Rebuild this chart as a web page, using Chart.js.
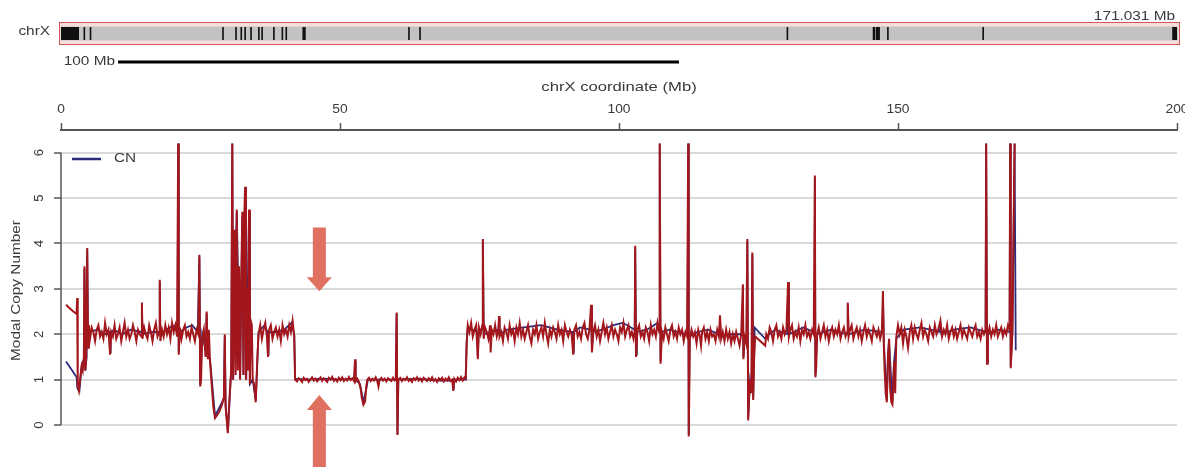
<!DOCTYPE html>
<html><head><meta charset="utf-8">
<script src="https://cdn.jsdelivr.net/npm/chart.js@4.4.1/dist/chart.umd.min.js"></script>
<style>html,body{margin:0;padding:0;background:#fff;}#wrap{width:1185px;height:467px;}</style>
</head><body><div id="wrap"><canvas id="c" width="1185" height="467"></canvas></div>
<script>
// ---- data (Mb, copy number) ----
const chrName = 'chrX';
const chrLength = 171.031;
const xTitle = 'chrX coordinate (Mb)';
const yTitle = 'Modal Copy Number';
const xTicks = [0, 50, 100, 150, 200];
const yTicks = [0, 1, 2, 3, 4, 5, 6];
const bandStarts = [0, 3.45, 4.4, 24.7, 26.7, 27.5, 28.1, 29.0, 30.2, 30.7, 32.5, 33.8, 34.4, 37.0, 53.2, 54.9, 111.2, 124.4, 124.85, 126.6, 141.2, 170.3];
const bandEnds   = [2.76, 3.7, 4.65, 24.95, 26.95, 27.75, 28.35, 29.25, 30.45, 30.95, 32.75, 34.05, 34.65, 37.5, 53.45, 55.15, 111.45, 124.75, 125.5, 126.85, 141.45, 171.031];
const arrowPos = 46.3;

const redA = [[0.9,2.65],[1.5,2.58],[2.2,2.5],[2.8,2.45],[2.9,2.8],[3.0,0.85],[3.2,0.75],[3.5,1.1],[3.7,1.3],[3.9,1.2],[4.1,1.5],[4.2,3.5],[4.35,1.2],[4.5,1.45],[4.7,3.9],[4.85,1.7],[5.0,2.2],[5.2,1.9],[5.5,2.15],[5.8,2.05],[6.1,1.85],[6.4,2.1],[6.7,2.2],[7.0,1.95],[7.3,2.05],[7.6,1.9],[7.9,2.25],[8.2,2.0],[8.5,2.1],[8.8,1.55],[9.0,2.05],[9.3,1.95],[9.6,2.2],[9.9,1.9],[10.2,2.0],[10.5,2.15],[10.8,1.85],[11.1,2.05],[11.4,2.25],[11.7,1.95],[12.0,2.1],[12.3,1.9],[12.6,2.0],[12.9,2.2],[13.2,2.05],[13.5,1.85],[13.8,2.1],[14.1,2.0],[14.4,1.95],[14.5,2.7],[14.6,1.9],[14.9,2.15],[15.2,2.0],[15.5,1.9],[15.8,2.2],[16.1,2.05],[16.4,1.85],[16.7,2.1],[17.0,2.25],[17.3,1.95],[17.6,2.05],[17.7,3.2],[17.8,1.85],[18.1,2.1],[18.4,1.95],[18.7,2.2],[19.0,2.0],[19.3,2.15],[19.6,1.9],[19.9,2.25],[20.2,2.05],[20.5,2.2],[20.8,1.95],[21.0,6.2],[21.1,1.55],[21.3,2.15],[21.6,1.9],[21.9,2.1],[22.2,2.2],[22.5,1.95],[22.8,2.05],[23.1,1.9],[23.4,2.15],[23.7,2.0],[24.0,1.85],[24.3,2.1],[24.6,2.0],[24.8,3.75],[24.95,0.85],[25.1,1.0],[25.3,1.9],[25.6,2.1],[25.9,1.5],[26.1,2.5],[26.3,1.45],[26.5,2.1],[26.7,1.4],[27.0,0.9],[27.3,0.4],[27.6,0.15],[28.0,0.22],[28.4,0.3],[28.85,0.45],[29.2,0.6],[29.35,2.0],[29.5,0.4],[29.9,-0.18],[30.2,0.6],[30.5,1.2],[30.7,6.2],[30.85,1.0],[31.1,4.3],[31.3,1.1],[31.5,4.75],[31.7,1.2],[31.9,3.5],[32.1,1.0],[32.3,3.2],[32.5,4.7],[32.7,1.1],[32.85,4.6],[33.0,5.25],[33.15,1.0],[33.35,3.0],[33.5,1.2],[33.7,4.75],[33.85,0.9],[34.0,2.3],[34.2,2.2],[34.35,1.0],[34.6,0.9],[34.9,0.5],[35.2,1.5],[35.4,2.0],[35.7,2.2],[36.0,1.9],[36.3,2.1],[36.6,2.25],[36.9,1.95],[37.1,1.5],[37.3,2.1],[37.6,2.2],[37.9,1.9],[38.2,2.05],[38.5,2.15],[38.8,1.95],[39.1,2.1],[39.4,1.85],[39.7,2.2],[40.0,2.0],[40.3,2.1],[40.6,1.95],[40.9,2.2],[41.2,2.05],[41.5,2.3],[41.8,1.95]];
const redB = [[41.95,1.0],[42.3,0.96],[42.6,1.03],[42.9,1.0],[43.2,0.95],[43.5,1.04],[43.8,0.99],[44.1,1.02],[44.4,0.95],[44.7,1.0],[45.0,1.05],[45.3,0.98],[45.6,1.02],[45.9,0.96],[46.2,1.0],[46.5,1.05],[46.8,0.97],[47.1,1.03],[47.4,0.99],[47.7,0.95],[48.0,1.04],[48.3,1.0],[48.6,1.06],[48.9,0.97],[49.2,1.01],[49.5,0.96],[49.8,1.04],[50.1,0.99],[50.4,1.05],[50.7,0.97],[51.0,1.02],[51.3,0.98],[51.6,1.06],[51.9,0.99],[52.2,1.03],[52.5,0.97],[52.7,1.45],[52.8,0.96],[53.1,1.02],[53.4,0.95],[53.7,0.8],[53.9,0.6],[54.2,0.45],[54.5,0.52],[54.7,0.85],[54.9,1.0],[55.2,1.04],[55.5,0.97],[55.8,1.02],[56.1,0.98],[56.4,1.05],[56.7,0.96],[56.9,0.85],[57.1,1.0],[57.4,1.04],[57.7,0.98],[58.0,1.02],[58.3,0.96],[58.6,1.03],[58.9,1.0],[59.2,0.97],[59.5,1.04],[59.8,0.98],[60.0,1.0],[60.15,2.48],[60.3,-0.22],[60.45,1.0],[60.8,1.04],[61.1,0.97],[61.4,1.02],[61.7,0.99],[62.0,1.05],[62.3,0.97],[62.6,1.01],[62.9,0.95],[63.2,1.03],[63.5,0.99],[63.8,1.05],[64.1,0.98],[64.4,1.02],[64.7,0.96],[65.0,1.04],[65.3,1.0],[65.6,0.97],[65.9,1.03],[66.2,0.98],[66.5,1.05],[66.8,0.97],[67.1,1.01],[67.4,0.95],[67.7,1.03],[68.0,0.99],[68.3,1.04],[68.6,0.96],[68.9,1.02],[69.2,0.98],[69.5,1.05],[69.8,0.97],[70.1,1.0],[70.3,0.75],[70.5,1.02],[70.8,0.96],[71.1,1.04],[71.4,0.99],[71.7,1.06],[72.0,0.98],[72.3,1.05],[72.55,1.02]];
const redC = [[72.7,1.8],[72.9,2.2],[73.2,2.05],[73.5,2.25],[73.8,1.95],[74.1,2.1],[74.4,2.2],[74.7,1.45],[74.9,2.15],[75.2,2.0],[75.5,2.2],[75.6,4.1],[75.75,1.9],[76.0,2.15],[76.3,2.05],[76.6,1.9],[76.9,2.2],[77.0,1.6],[77.2,2.1],[77.5,2.0],[77.8,2.2],[78.1,1.95],[78.4,2.1],[78.5,2.4],[78.6,1.95],[78.9,2.05],[79.2,1.85],[79.5,2.15],[79.8,2.05],[80.1,1.9],[80.4,2.2],[80.7,2.0],[81.0,2.1],[81.3,1.85],[81.6,2.15],[81.9,2.0],[82.2,2.25],[82.5,1.95],[82.8,2.1],[83.1,1.9],[83.4,2.05],[83.7,2.2],[84.0,1.95],[84.3,1.8],[84.6,2.1],[84.9,2.0],[85.2,2.2],[85.5,1.9],[85.8,2.05],[86.1,2.15],[86.4,1.95],[86.7,2.25],[87.0,2.0],[87.3,1.8],[87.6,2.1],[87.9,1.95],[88.2,2.15],[88.5,2.05],[88.8,1.9],[89.1,2.2],[89.4,2.0],[89.7,2.1],[90.0,1.85],[90.3,2.2],[90.6,2.05],[90.9,1.95],[91.2,2.1],[91.5,2.0],[91.8,1.55],[92.0,2.1],[92.3,2.2],[92.6,1.95],[92.9,2.05],[93.2,1.9],[93.5,2.15],[93.8,2.25],[94.1,2.0],[94.4,1.9],[94.7,2.1],[95.0,2.65],[95.15,1.6],[95.4,2.05],[95.7,2.2],[96.0,1.95],[96.3,2.1],[96.6,1.85],[96.9,2.05],[97.2,2.25],[97.5,2.0],[97.8,2.15],[98.1,1.9],[98.4,2.05],[98.7,2.2],[99.0,1.95],[99.3,2.1],[99.6,2.0],[99.9,1.85],[100.2,2.15],[100.5,2.05],[100.8,2.25],[101.1,1.95],[101.4,2.1],[101.7,2.2],[102.0,1.95],[102.3,2.05],[102.6,1.9],[102.85,2.1],[102.9,3.95],[103.05,1.5],[103.3,2.1],[103.6,2.2],[103.9,1.95],[104.2,2.05],[104.5,1.9],[104.8,2.15],[105.1,2.05],[105.4,1.85],[105.7,2.2],[106.0,2.0],[106.3,2.1],[106.6,1.95],[106.9,2.25],[107.2,2.05],[107.3,6.2],[107.45,1.35],[107.7,2.05],[108.0,1.9],[108.3,2.15],[108.6,2.0],[108.9,1.85],[109.2,2.1],[109.5,2.2],[109.8,1.95],[110.1,2.05],[110.4,1.9],[110.7,2.15],[111.0,2.0],[111.3,2.1],[111.6,1.85],[111.9,2.05],[112.2,1.95],[112.4,6.2],[112.5,-0.25],[112.7,1.9],[113.0,2.1],[113.3,1.95],[113.6,2.05],[113.9,1.8],[114.2,2.1],[114.5,1.95],[114.7,1.75],[114.9,2.05],[115.2,2.15],[115.5,1.9],[115.8,2.05],[116.1,1.85],[116.4,2.1],[116.7,1.95],[117.0,2.0],[117.3,1.85],[117.6,2.1],[117.9,1.95],[118.1,2.42],[118.3,1.9],[118.6,2.05],[118.9,1.85],[119.2,2.1],[119.5,1.9],[119.8,2.05],[120.1,1.8],[120.4,2.0],[120.7,1.85],[121.0,2.05],[121.3,1.9],[121.6,1.75],[121.9,2.0],[122.2,3.1],[122.3,1.45],[122.5,1.95],[122.8,1.8],[123.0,4.1],[123.15,0.1],[123.3,0.6],[123.5,1.0],[123.7,0.7],[123.9,3.8],[124.05,0.55],[124.2,1.4],[124.4,1.95],[126.2,1.75],[126.4,2.0]];
const redD = [[126.7,1.9],[127.0,2.15],[127.3,2.05],[127.6,1.85],[127.9,2.1],[128.2,2.2],[128.5,1.95],[128.8,2.05],[129.1,1.9],[129.4,2.15],[129.7,2.0],[130.0,2.1],[130.3,3.15],[130.45,1.95],[130.7,2.1],[131.0,2.2],[131.3,1.9],[131.6,2.05],[131.9,1.95],[132.2,2.15],[132.5,1.85],[132.8,2.1],[133.1,2.0],[133.4,2.2],[133.7,1.95],[134.0,2.05],[134.3,1.9],[134.6,2.1],[134.9,2.0],[135.1,5.5],[135.2,1.05],[135.35,1.3],[135.5,2.0],[135.8,2.15],[136.1,1.9],[136.4,2.05],[136.7,2.2],[137.0,1.95],[137.3,2.1],[137.6,1.85],[137.9,2.05],[138.2,2.15],[138.5,1.95],[138.8,2.1],[139.1,2.0],[139.4,2.2],[139.7,1.9],[140.0,2.05],[140.3,2.15],[140.6,1.95],[140.9,2.05],[141.0,2.7],[141.15,1.95],[141.4,2.1],[141.7,2.2],[142.0,1.9],[142.3,2.05],[142.6,2.15],[142.9,1.95],[143.2,2.1],[143.5,1.85],[143.8,2.05],[144.1,2.2],[144.4,1.95],[144.7,2.1],[145.0,2.0],[145.3,1.85],[145.6,2.15],[145.9,2.05],[146.2,1.95],[146.5,2.1],[146.8,1.9],[147.1,2.05],[147.3,2.95],[147.45,1.8],[147.6,1.2],[147.8,0.7],[148.0,0.5],[148.2,1.5],[148.4,1.9],[148.6,0.8],[148.8,0.5],[149.0,0.45],[149.3,1.4],[149.5,0.7],[149.7,1.95],[150.0,2.2],[150.3,2.0],[150.6,2.15],[150.9,1.8],[151.2,2.1],[151.5,1.95],[151.8,1.7],[152.1,2.05],[152.4,2.2],[152.7,1.9],[153.0,2.15],[153.3,2.0],[153.6,1.9],[153.9,2.1],[154.2,2.25],[154.5,1.95],[154.8,2.1],[155.1,2.0],[155.4,1.85],[155.7,2.15],[156.0,2.05],[156.3,1.95],[156.6,2.2],[156.9,2.0],[157.2,2.1],[157.6,2.3],[157.9,1.95],[158.2,2.1],[158.5,2.0],[158.8,2.2],[159.1,1.9],[159.4,2.05],[159.7,2.15],[160.0,1.95],[160.3,2.1],[160.6,1.9],[160.9,2.05],[161.2,2.2],[161.5,1.95],[161.8,2.1],[162.1,2.0],[162.4,1.9],[162.7,2.15],[163.0,2.05],[163.3,1.95],[163.6,2.1],[163.9,2.2],[164.2,1.95],[164.5,2.05],[164.8,1.9],[165.1,2.1],[165.4,2.0],[165.7,2.1],[165.8,6.2],[165.95,1.35],[166.1,2.0],[166.4,2.15],[166.7,1.95],[167.0,2.1],[167.3,2.0],[167.6,2.2],[167.9,1.95],[168.2,2.05],[168.5,2.15],[168.8,1.95],[169.1,2.1],[169.4,2.0],[169.7,2.2],[170.0,2.1],[170.1,6.2],[170.2,1.25],[170.5,2.05],[170.9,6.2]];
const cnBlue = [[0.9,1.4],[2.0,1.2],[2.8,1.05],[2.95,0.8],[3.3,0.75],[3.7,1.3],[4.1,1.45],[4.2,3.45],[4.35,1.2],[4.6,1.5],[4.7,3.85],[4.85,1.7],[5.2,2.05],[6.5,2.1],[8.0,2.0],[8.7,2.05],[8.8,1.6],[8.9,2.05],[9.5,2.1],[11.0,2.0],[12.5,2.1],[14.4,2.05],[14.5,2.65],[14.6,2.0],[16.5,2.05],[17.6,2.05],[17.7,3.15],[17.8,2.0],[19.5,2.15],[20.5,2.2],[20.9,2.1],[21.0,6.2],[21.1,1.6],[21.3,2.05],[22.5,2.15],[23.5,2.2],[24.5,2.05],[24.8,3.7],[24.95,0.9],[25.3,2.0],[26.0,1.6],[26.1,2.45],[26.3,1.5],[26.7,1.45],[27.6,0.2],[28.85,0.5],[29.2,0.6],[29.35,1.95],[29.5,0.45],[29.9,-0.15],[30.5,1.2],[30.7,6.2],[30.85,1.0],[31.5,4.7],[32.1,1.05],[32.5,4.6],[32.7,1.1],[33.0,5.2],[33.2,1.0],[33.7,4.7],[33.85,0.9],[34.35,1.0],[34.9,0.55],[35.4,2.05],[36.5,2.2],[37.0,2.05],[37.1,1.55],[37.2,2.05],[38.5,2.05],[40.0,2.1],[41.3,2.25],[41.8,2.0],[41.95,1.02],[44,1.0],[47,1.02],[50,1.0],[52.6,1.02],[52.7,1.4],[52.8,1.0],[53.6,0.9],[54.2,0.5],[54.8,0.85],[55.0,1.0],[58,1.0],[60.0,1.0],[60.15,2.45],[60.3,-0.2],[60.45,1.0],[64,1.02],[68,0.98],[70.2,0.98],[70.3,0.8],[70.4,1.0],[72.5,1.0],[72.7,1.8],[72.9,2.15],[74.6,2.05],[74.7,1.5],[74.85,2.1],[75.5,2.1],[75.6,4.05],[75.75,2.0],[78.4,2.1],[78.5,2.35],[78.6,2.0],[80,2.1],[83,2.15],[86,2.2],[89,2.1],[91.7,2.05],[91.8,1.6],[91.9,2.05],[93,2.15],[94.9,2.1],[95.0,2.6],[95.15,1.65],[95.3,2.05],[97,2.1],[99,2.2],[100.6,2.25],[101.5,2.2],[102.8,2.1],[102.9,3.9],[103.05,1.55],[103.2,2.05],[105,2.1],[106.9,2.25],[107.2,2.1],[107.3,6.2],[107.45,1.4],[107.6,2.05],[109,2.1],[112.3,2.0],[112.4,6.2],[112.5,-0.2],[112.65,1.95],[114,2.05],[116,2.1],[118.0,2.0],[118.1,2.4],[118.2,1.95],[120,2.0],[122.1,2.0],[122.2,3.05],[122.3,1.5],[122.5,1.95],[122.9,1.85],[123.0,4.05],[123.15,0.15],[123.5,1.0],[123.8,0.8],[123.9,3.75],[124.05,0.6],[124.3,2.15],[126.2,1.9],[126.4,1.95],[128,2.1],[130.2,2.0],[130.3,3.1],[130.45,2.0],[133,2.15],[135.0,2.05],[135.1,5.45],[135.2,1.1],[135.5,2.0],[138,2.1],[140.9,2.0],[141.0,2.65],[141.15,2.0],[144,2.1],[147.2,2.05],[147.3,2.9],[147.45,1.85],[148.0,0.55],[148.2,1.5],[148.4,1.85],[149.0,0.5],[149.3,1.4],[149.7,1.9],[151,2.1],[154,2.15],[157.5,2.05],[157.6,2.25],[157.8,2.0],[160,2.1],[163,2.15],[165.7,2.05],[165.8,6.2],[165.95,1.4],[166.1,2.0],[168,2.1],[170.0,2.05],[170.1,6.2],[170.2,1.3],[170.5,2.05],[170.9,6.2],[171.1,1.65]];

// ---- rendering ----
const FONT = '"Liberation Sans", Arial, Helvetica, sans-serif';
const RED = '#a3171c', BLUE = '#2b2d7a', TXT = '#3a3a3a', AX = '#555', ARROW = '#e0705f';
const STRETCH = 1.28;
const toXY = arr => arr.map(p => ({x: p[0], y: p[1]}));
const redAll = [].concat(redA, redB, redC, redD);

function txt(ctx, s, x, y, size, align, rot, stretch) {
  ctx.save();
  ctx.translate(x, y);
  if (rot) ctx.rotate(rot);
  ctx.scale(stretch || STRETCH, 1);
  ctx.font = size + 'px ' + FONT;
  ctx.fillStyle = TXT;
  ctx.textAlign = align; ctx.textBaseline = 'middle';
  ctx.fillText(s, 0, 0);
  ctx.restore();
}

const decor = {
  id: 'decor',
  afterDraw(chart) {
    const {ctx, chartArea: a, scales: {x, y}} = chart;
    ctx.save();
    // --- ideogram ---
    const ip = mb => x.getPixelForValue(mb / chrLength * 200);
    const iL = ip(0), iR = ip(chrLength);
    ctx.fillStyle = '#f7dede';
    ctx.fillRect(iL - 1, 22, iR - iL + 4, 23);
    ctx.fillStyle = '#c2c2c2';
    ctx.fillRect(iL, 26.5, iR - iL + 1, 14);
    ctx.fillStyle = '#111';
    for (let i = 0; i < bandStarts.length; i++) {
      const s = ip(bandStarts[i]), e = ip(bandEnds[i]);
      ctx.fillRect(s, 27, Math.max(1.6, e - s), 13);
    }
    txt(ctx, chrLength.toFixed(3) + ' Mb', iR - 2, 17, 12, 'right');
    ctx.strokeStyle = '#d25555'; ctx.lineWidth = 1;
    ctx.strokeRect(iL - 1.5, 22.5, iR - iL + 4, 22);
    txt(ctx, chrName, 50, 32, 12, 'right');
    // --- scale bar ---
    txt(ctx, '100 Mb', 115, 62, 12, 'right');
    ctx.strokeStyle = '#000'; ctx.lineWidth = 3;
    ctx.beginPath(); ctx.moveTo(118, 62); ctx.lineTo(679, 62); ctx.stroke();
    // --- top axis labels & title ---
    xTicks.forEach(v => txt(ctx, String(v), x.getPixelForValue(v), 110, 12, 'center', 0, 1.15));
    txt(ctx, xTitle, (a.left + a.right) / 2, 87, 13, 'center');
    // --- y axis (R style) ---
    ctx.strokeStyle = AX; ctx.lineWidth = 1.5;
    ctx.beginPath();
    ctx.moveTo(a.left, y.getPixelForValue(yTicks[0]));
    ctx.lineTo(a.left, y.getPixelForValue(yTicks[yTicks.length - 1]));
    ctx.stroke();
    yTicks.forEach(v => txt(ctx, String(v), 40, y.getPixelForValue(v), 12, 'center', -Math.PI / 2, 1.1));
    txt(ctx, yTitle, 17, (a.top + a.bottom) / 2 + 3, 12, 'center', -Math.PI / 2);
    // --- legend ---
    ctx.strokeStyle = BLUE; ctx.lineWidth = 2.5;
    ctx.beginPath(); ctx.moveTo(72, 159); ctx.lineTo(101, 159); ctx.stroke();
    txt(ctx, chart.data.datasets[1].label, 114, 159, 12, 'left');
    // --- arrows ---
    const ax = x.getPixelForValue(arrowPos);
    const shaft = 6.5, head = 12.5;
    ctx.fillStyle = ARROW;
    const dTop = y.getPixelForValue(4.35), dTip = y.getPixelForValue(2.95);
    ctx.beginPath();
    ctx.moveTo(ax - shaft, dTop); ctx.lineTo(ax + shaft, dTop);
    ctx.lineTo(ax + shaft, dTip - 14); ctx.lineTo(ax + head, dTip - 14);
    ctx.lineTo(ax, dTip); ctx.lineTo(ax - head, dTip - 14);
    ctx.lineTo(ax - shaft, dTip - 14); ctx.closePath(); ctx.fill();
    const uTip = y.getPixelForValue(0.66), uBot = y.getPixelForValue(-1.2);
    ctx.beginPath();
    ctx.moveTo(ax, uTip); ctx.lineTo(ax + head, uTip + 15);
    ctx.lineTo(ax + shaft, uTip + 15); ctx.lineTo(ax + shaft, uBot);
    ctx.lineTo(ax - shaft, uBot); ctx.lineTo(ax - shaft, uTip + 15);
    ctx.lineTo(ax - head, uTip + 15); ctx.closePath(); ctx.fill();
    ctx.restore();
  }
};

new Chart(document.getElementById('c'), {
  type: 'line',
  data: {
    datasets: [
      {label: 'segments', data: toXY(redAll), borderColor: RED, borderWidth: 2, pointRadius: 0, tension: 0},
      {label: 'CN', data: toXY(cnBlue), borderColor: BLUE, borderWidth: 1.8, pointRadius: 0, tension: 0}
    ]
  },
  options: {
    responsive: false, animation: false, devicePixelRatio: 1,
    layout: {padding: {top: 78, right: 8, bottom: 22, left: 0}},
    plugins: {legend: {display: false}, tooltip: {enabled: false}},
    scales: {
      x: {
        type: 'linear', position: 'top', min: 0, max: 200,
        afterBuildTicks: s => { s.ticks = xTicks.map(v => ({value: v})); },
        afterFit: s => { s.height = 52; },
        ticks: {display: false},
        grid: {drawOnChartArea: false, drawTicks: true, tickLength: 7, tickColor: AX, tickWidth: 1.5},
        border: {display: true, color: AX, width: 2},
        title: {display: false}
      },
      y: {
        type: 'linear', min: -0.44, max: 6.5,
        afterBuildTicks: s => { s.ticks = yTicks.map(v => ({value: v})); },
        afterFit: s => { s.width = 61; },
        ticks: {display: false},
        grid: {color: '#d9d9d9', lineWidth: 2, drawTicks: true, tickLength: 7, tickColor: AX, tickWidth: 1.5},
        border: {display: false},
        title: {display: false}
      }
    }
  },
  plugins: [decor]
});
</script></body></html>
